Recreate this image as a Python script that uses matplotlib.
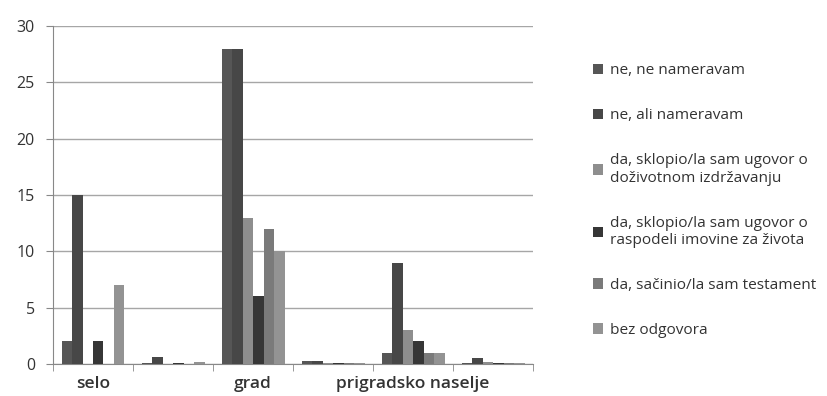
import matplotlib.pyplot as plt
import numpy as np

plt.rcParams['font.family'] = ['Open Sans', 'DejaVu Sans']

kategorije = ["selo", "", "grad", "", "prigradsko naselje", ""]
serije = ["ne, ne nameravam",
          "ne, ali nameravam",
          "da, sklopio/la sam ugovor o\ndoživotnom izdržavanju",
          "da, sklopio/la sam ugovor o\nraspodeli imovine za života",
          "da, sačinio/la sam testament",
          "bez odgovora"]

ne_ne = [2, 0.1, 28, 0.3, 1, 0.1]
ne_ali = [15, 0.6, 28, 0.3, 9, 0.5]
da_dozivotno = [0, 0, 13, 0.1, 3, 0.15]
da_raspodela = [2, 0.1, 6, 0.1, 2, 0.05]
da_testament = [0, 0, 12, 0.05, 1, 0.05]
bez_odgovora = [7, 0.2, 10, 0.05, 1, 0.05]

vrednosti = [ne_ne, ne_ali, da_dozivotno, da_raspodela, da_testament, bez_odgovora]
boje = ['#565656', '#474747', '#8e8e8e', '#363636', '#7a7a7a', '#939393']

fig = plt.figure(figsize=(8.28, 3.96), dpi=100)
ax = fig.add_axes([0.064, 0.081, 0.58, 0.853])

X = np.arange(len(kategorije))
w = 0.131
for i, (v, b) in enumerate(zip(vrednosti, boje)):
    ax.bar(X + (i - 2.5) * w, v, width=w, color=b, label=serije[i], zorder=3)

ax.set_xlim(-0.5, len(kategorije) - 0.5)
ax.set_ylim(0, 30)
ax.set_yticks(range(0, 31, 5))
ax.grid(axis='y', color='#a6a6a6', lw=1, zorder=0)

ax.set_xticks(X)
ax.set_xticklabels(kategorije, fontsize=12.5, color='#333333', fontweight='semibold')
ax.tick_params(axis='x', which='major', length=0, pad=9)
ax.set_xticks(np.arange(-0.5, len(kategorije)), minor=True)
ax.tick_params(axis='x', which='minor', length=5, color='#888888')
ax.tick_params(axis='y', length=5, color='#888888', labelsize=11.5,
               labelcolor='#333333', pad=8)

for s in ['top', 'right']:
    ax.spines[s].set_visible(False)
for s in ['left', 'bottom']:
    ax.spines[s].set_color('#888888')

fig.legend(loc='upper left', bbox_to_anchor=(0.699, 0.875), frameon=False,
           fontsize=11.1, labelspacing=1.95, handlelength=0.7, handleheight=0.7,
           handletextpad=0.45, labelcolor='#333333')

plt.savefig('out.png', dpi=100)
